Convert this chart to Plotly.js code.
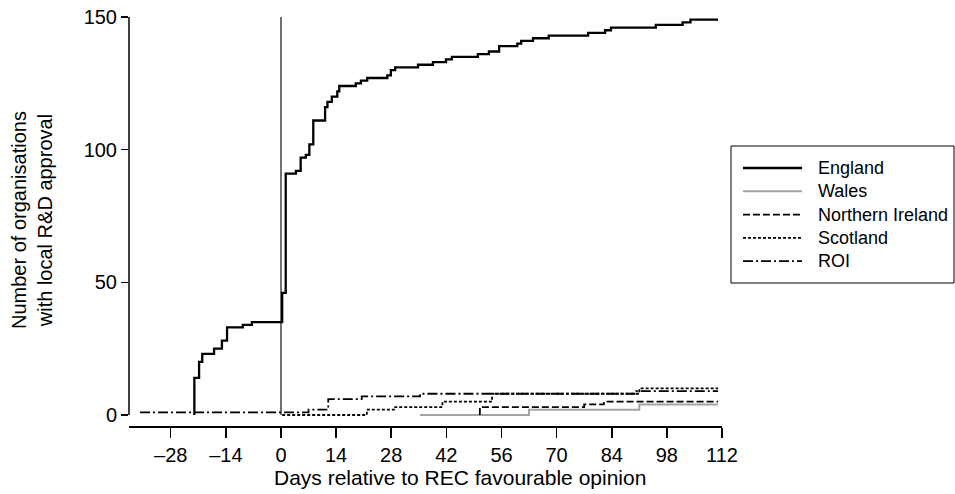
<!DOCTYPE html>
<html>
<head>
<meta charset="utf-8">
<script src="https://cdn.plot.ly/plotly-3.0.1.min.js"></script>
<style>html,body{margin:0;padding:0;background:#fff}#chart{width:955px;height:494px}</style>
</head>
<body>
<div id="chart"></div>
<script>
// ---- data (days relative to REC favourable opinion, cumulative organisations) ----
const englandDays = [-22, -22, -20.8, -20, -17, -15, -13.7, -9.7, -7.4, 0.3, 1.2, 3.8, 5, 6.3, 7.2, 8.2, 11.2, 11.8, 12.9, 14.3, 14.8, 19, 20.3, 21.9, 27, 27.9, 29, 34.8, 38.6, 41.9, 43.4, 50, 52.8, 55.4, 60, 61, 64, 68, 78, 82.3, 83.8, 95.2, 102, 104, 111];
const englandCount = [0, 14, 20, 23, 25, 28, 33, 34, 35, 46, 91, 92, 97, 98, 102, 111, 116, 118, 120, 122, 124, 125, 126, 127, 128, 130, 131, 132, 133, 134, 135, 136, 137, 139, 140, 141, 142, 143, 144, 145, 146, 147, 148, 149, 149];

const walesDays = [35.3, 63, 91, 111];
const walesCount = [0, 2, 4, 4];

const niDays = [50.5, 50.5, 77, 82, 111];
const niCount = [0, 3, 4, 5, 5];

const scotlandDays = [0.3, 21.8, 29, 41, 53.6, 91, 111];
const scotlandCount = [0, 2, 3, 5, 8, 10, 10];

const roiDays = [-35.8, 7, 12, 20.5, 35.3, 90.2, 111];
const roiCount = [1, 2, 6, 7, 8, 9, 9];

const seriesNames = ["England", "Wales", "Northern Ireland", "Scotland", "ROI"];
const xTickVals = [-28, -14, 0, 14, 28, 42, 56, 70, 84, 98, 112];
const xTickText = ["\u201328", "\u201314", "0", "14", "28", "42", "56", "70", "84", "98", "112"];
const yTickVals = [0, 50, 100, 150];

// ---- styles ----
const styles = [
  {color: "#000000", width: 2.3, dash: "solid"},
  {color: "#a3a3a3", width: 2.0, dash: "solid"},
  {color: "#000000", width: 1.8, dash: "7px,3px"},
  {color: "#000000", width: 1.8, dash: "3px,2px"},
  {color: "#000000", width: 1.8, dash: "10px,3px,2px,3px"}
];
const xs = [englandDays, walesDays, niDays, scotlandDays, roiDays];
const ys = [englandCount, walesCount, niCount, scotlandCount, roiCount];

const traces = seriesNames.map((name, i) => ({
  type: "scatter", mode: "lines", name: name,
  x: xs[i], y: ys[i],
  line: {shape: "hv", color: styles[i].color, width: styles[i].width, dash: styles[i].dash},
  showlegend: false, hoverinfo: "x+y+name"
}));
// draw England on top
traces.push(traces.shift());

// ---- geometry helpers (pixel -> paper) ----
const W = 955, H = 494, ML = 129, MR = 233, MT = 17, MB = 68;
const PW = W - ML - MR, PH = H - MT - MB;
const px = v => (v - ML) / PW;
const py = v => (H - MB - v) / PH;

const FONT = "Liberation Sans, Arial, Helvetica, sans-serif";

const shapes = [
  // vertical reference line at day 0
  {type: "line", xref: "x", yref: "y", x0: 0, x1: 0, y0: 0, y1: 150, line: {color: "#000000", width: 1.1}, layer: "below"},
  // y axis line (0 to 150 only)
  {type: "line", xref: "paper", yref: "y", x0: 0, x1: 0, y0: 0, y1: 150, line: {color: "#000", width: 1.5}},
  // legend box
  {type: "rect", xref: "paper", yref: "paper", x0: px(731), x1: px(954), y0: py(283), y1: py(146), line: {color: "#000", width: 1}, fillcolor: "rgba(0,0,0,0)"}
];
const annotations = [
  {xref: "paper", yref: "paper", x: px(460), y: py(478), text: "Days relative to REC favourable opinion", showarrow: false, xanchor: "center", yanchor: "middle", font: {family: FONT, size: 21, color: "#000"}},
  {xref: "paper", yref: "paper", x: px(32), y: py(220), text: "Number of organisations<br>with local R&amp;D approval", textangle: -90, showarrow: false, xanchor: "center", yanchor: "middle", font: {family: FONT, size: 20, color: "#000"}}
];
const legendY = [168, 191.3, 214.6, 237.9, 261.2];
seriesNames.forEach((name, i) => {
  shapes.push({type: "line", xref: "paper", yref: "paper", x0: px(743), x1: px(802), y0: py(legendY[i]), y1: py(legendY[i]), line: {color: styles[i].color, width: styles[i].width, dash: styles[i].dash}});
  annotations.push({xref: "paper", yref: "paper", x: px(816), y: py(legendY[i]), text: name, showarrow: false, xanchor: "left", yanchor: "middle", font: {family: FONT, size: 18, color: "#000"}});
});

const layout = {
  width: W, height: H,
  margin: {l: ML, r: MR, t: MT, b: MB, pad: 0},
  paper_bgcolor: "#fff", plot_bgcolor: "#fff",
  showlegend: false,
  font: {family: FONT, size: 20, color: "#000"},
  xaxis: {
    range: [-38.6, 112], showgrid: false, zeroline: false,
    showline: true, linecolor: "#000", linewidth: 1.5,
    ticks: "outside", ticklen: 10, tickwidth: 1.5, tickcolor: "#000",
    tickvals: xTickVals, ticktext: xTickText,
    tickfont: {family: FONT, size: 20, color: "#000"}, fixedrange: true
  },
  yaxis: {
    range: [-4.15, 150], showgrid: false, zeroline: false, showline: false,
    ticks: "outside", ticklen: 7, tickwidth: 1.5, tickcolor: "#000",
    tickvals: yTickVals, tickfont: {family: FONT, size: 20, color: "#000"}, fixedrange: true
  },
  shapes: shapes,
  annotations: annotations
};

Plotly.newPlot("chart", traces, layout, {displayModeBar: false, staticPlot: true});
</script>
</body>
</html>
